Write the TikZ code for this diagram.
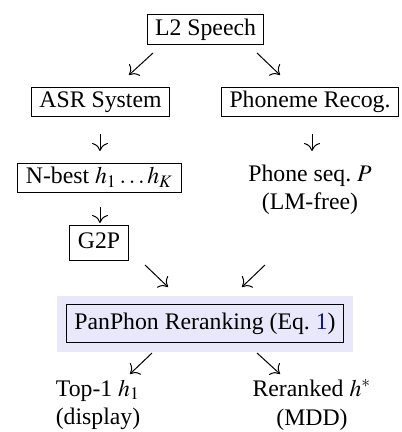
\documentclass[tikz,border=0pt]{standalone}
\usepackage{mathptmx}
\usepackage{fontspec}
\setmainfont{Liberation Serif}
\usetikzlibrary{arrows.meta}
\definecolor{panfill}{RGB}{232,232,250}
\definecolor{refblue}{RGB}{20,20,140}
\begin{document}
\begin{tikzpicture}[x=0.4pt,y=-0.4pt,font=\fontsize{9.5}{11.4}\selectfont]
		\begin{scope}[scale=1]
		
		\tikzstyle{mybox}=[rectangle,
		draw=black,
		line width=0.4pt,
		inner xsep=3.2pt,
		inner ysep=1.6pt,
		text height=6.6pt,
		text depth=2.1pt
		]
		\tikzstyle{mytext}=[align=center,
		inner sep=0pt
		]
		\tikzstyle{myarrow}=[-{Computer Modern Rightarrow[length=3.2pt,width=6.4pt]},
		line width=0.4pt
		]
		
		\useasboundingbox (0,0) rectangle (401,432);
		
		\coordinate (pspeech) at (205.5, 29.5);
		\coordinate (pasr) at (100.5, 102);
		\coordinate (pphon) at (310, 102);
		\coordinate (pnbest) at (99.5, 178);
		\coordinate (pseq) at (310, 190);
		\coordinate (pg2p) at (99, 243);
		\coordinate (ppan) at (205, 323.5);
		\coordinate (ptop) at (98, 405);
		\coordinate (prer) at (312, 405);
		
		\node[mybox] (speech) at (pspeech) {L2 Speech};
		\node[mybox] (asr) at (pasr) {ASR System};
		\node[mybox] (phon) at (pphon) {Phoneme Recog.};
		\node[mybox] (nbest) at (pnbest) {N-best $h_1\ldots h_K$};
		\node[mytext] (seq) at (pseq) {Phone seq.\ $P$\\(LM-free)};
		\node[mybox, minimum height=13.6pt] (g2p) at (pg2p) {G2P};
		\node[fill=panfill, minimum width=118.4pt, minimum height=22.4pt] (panbg) at (ppan) {};
		\node[mybox, inner ysep=3.2pt, text height=6.8pt, text depth=2.2pt] (pan) at (ppan) {PanPhon Reranking (Eq.~\textcolor{refblue}{1})};
		\node[mytext] (top) at (ptop) {Top-1 $h_1$\\(display)};
		\node[mytext] (rer) at (prer) {Reranked $h^*$\\(MDD)};
		
		% arrow ends, between the rows
		\coordinate (a1) at (153, 53);   \coordinate (b1) at (129, 75);
		\coordinate (a2) at (257, 53);   \coordinate (b2) at (280, 75);
		\coordinate (a3) at (100, 134);  \coordinate (b3) at (100, 151);
		\coordinate (a4) at (312, 134);  \coordinate (b4) at (312, 151);
		\coordinate (a5) at (100, 207);  \coordinate (b5) at (100, 223);
		\coordinate (a6) at (145, 265);  \coordinate (b6) at (168, 287);
		\coordinate (a7) at (265, 265);  \coordinate (b7) at (242, 287);
		\coordinate (a8) at (152, 353);  \coordinate (b8) at (130, 374);
		\coordinate (a9) at (257, 353);  \coordinate (b9) at (280, 374);
		
		\draw[myarrow] (a1) -- (b1);
		\draw[myarrow] (a2) -- (b2);
		\draw[myarrow] (a3) -- (b3);
		\draw[myarrow] (a4) -- (b4);
		\draw[myarrow] (a5) -- (b5);
		\draw[myarrow] (a6) -- (b6);
		\draw[myarrow] (a7) -- (b7);
		\draw[myarrow] (a8) -- (b8);
		\draw[myarrow] (a9) -- (b9);
		
		\end{scope}
		\end{tikzpicture}
\end{document}
